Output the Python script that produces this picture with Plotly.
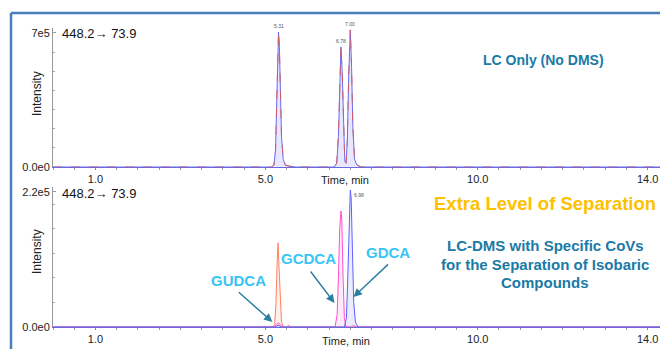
import plotly.graph_objects as go

# ---------------- data ----------------
# Top panel: LC only (two overlapping traces, blue solid + red dashed)
t_lc = [0.0, 5.15, 5.20, 5.24, 5.27, 5.29, 5.31, 5.33, 5.35, 5.38, 5.42, 5.47, 5.55, 5.70,
        6.62, 6.68, 6.72, 6.75, 6.78, 6.81, 6.84, 6.87, 6.90, 6.93, 6.96, 6.98, 7.00,
        7.03, 7.06, 7.10, 7.15, 7.25, 14.5]
i_lc = [0.0, 0.0, 0.1e5, 0.9e5, 3.6e5, 6.0e5, 7.05e5, 6.3e5, 4.2e5, 1.6e5, 0.4e5, 0.1e5, 0.05e5, 0.0,
        0.0, 0.2e5, 1.6e5, 4.5e5, 6.27e5, 4.9e5, 1.9e5, 0.3e5, 0.2e5, 1.4e5, 4.6e5, 6.6e5, 7.16e5,
        5.2e5, 2.1e5, 0.4e5, 0.12e5, 0.0, 0.0]
lc_peak_labels = ["5.31", "6.78", "7.00"]
lc_peak_times = [5.31, 6.78, 7.00]
lc_peak_heights = [7.05e5, 6.27e5, 7.16e5]

# Bottom panel: LC-DMS with specific CoVs
t_gudca = [0.0, 5.18, 5.22, 5.25, 5.28, 5.30, 5.32, 5.35, 5.38, 5.42, 5.50, 5.55, 5.60, 5.70,
           7.02, 7.08, 7.14, 14.5]
i_gudca = [0.0, 0.0, 0.05e5, 0.4e5, 1.1e5, 1.37e5, 1.0e5, 0.35e5, 0.08e5, 0.01e5, 0.0, 0.03e5, 0.0, 0.0,
           0.0, 0.025e5, 0.0, 0.0]
t_gcdca = [0.0, 5.20, 5.26, 5.31, 5.36, 5.42, 6.64, 6.69, 6.72, 6.75, 6.78, 6.80, 6.83, 6.86, 6.90, 14.5]
i_gcdca = [0.0, 0.0, 0.04e5, 0.07e5, 0.03e5, 0.0, 0.0, 0.2e5, 0.8e5, 1.6e5, 1.89e5, 1.75e5, 0.8e5, 0.15e5, 0.0, 0.0]
t_gdca = [0.0, 5.22, 5.30, 5.38, 6.86, 6.91, 6.94, 6.97, 7.00, 7.02, 7.05, 7.08, 7.12, 7.18, 14.5]
i_gdca = [0.0, 0.0, 0.03e5, 0.0, 0.0, 0.15e5, 0.8e5, 1.8e5, 2.23e5, 2.1e5, 1.2e5, 0.4e5, 0.08e5, 0.0, 0.0]
dms_peak_label = "6.98"

x_tickvals = [1.0, 5.0, 10.0, 14.0]
x_ticktext = ["1.0", "5.0", "10.0", "14.0"]
top_ytickvals = [0, 7e5]
top_yticktext = ["0.0e0", "7e5"]
bot_ytickvals = [0, 2.2e5]
bot_yticktext = ["0.0e0", "2.2e5"]

# ---------------- figure ----------------
OFF = 8  # default page body margin
W, H = 668 - OFF, 349 - OFF
def px(x):
    return (x - OFF) / W
def py(y):
    return 1 - (y - OFF) / H

FONT = "Liberation Sans, Arial, sans-serif"
fig = go.Figure()

# top panel traces
fig.add_trace(go.Scatter(x=t_lc, y=i_lc, mode="lines", line=dict(color="#6b6bf0", width=1.0),
                         fill="tozeroy", fillcolor="rgba(120,120,255,0.18)", xaxis="x", yaxis="y",
                         showlegend=False, hoverinfo="skip"))
fig.add_trace(go.Scatter(x=t_lc, y=i_lc, mode="lines", line=dict(color="#d85a5a", width=0.9, dash="dash"),
                         xaxis="x", yaxis="y", showlegend=False, hoverinfo="skip"))

# bottom panel traces
fig.add_trace(go.Scatter(x=t_gudca, y=i_gudca, mode="lines", line=dict(color="#ff8060", width=1.0),
                         fill="tozeroy", fillcolor="rgba(255,128,96,0.12)", xaxis="x2", yaxis="y2",
                         showlegend=False, hoverinfo="skip"))
fig.add_trace(go.Scatter(x=t_gcdca, y=i_gcdca, mode="lines", line=dict(color="#ff50d0", width=1.0),
                         fill="tozeroy", fillcolor="rgba(255,80,208,0.12)", xaxis="x2", yaxis="y2",
                         showlegend=False, hoverinfo="skip"))
fig.add_trace(go.Scatter(x=t_gdca, y=i_gdca, mode="lines", line=dict(color="#6060ff", width=1.0),
                         fill="tozeroy", fillcolor="rgba(96,96,255,0.12)", xaxis="x2", yaxis="y2",
                         showlegend=False, hoverinfo="skip"))

xaxis_common = dict(range=[0.0, 14.48], tickvals=x_tickvals, ticktext=x_ticktext, automargin=False,
                    showline=True, linecolor="#6a6ad8", linewidth=1.2, ticks="outside", ticklen=2,
                    tickcolor="#888", showgrid=False, zeroline=False,
                    minor=dict(dtick=0.5, ticks="outside", ticklen=2, tickcolor="#999"),
                    tickfont=dict(family=FONT, size=11, color="#222"), fixedrange=True)
yaxis_common = dict(showline=True, linecolor="#999", linewidth=1, ticks="inside", ticklen=3,
                    tickcolor="#999", showgrid=False, zeroline=False, automargin=False,
                    tickfont=dict(family=FONT, size=11, color="#222"), fixedrange=True)

fig.update_layout(
    width=W, height=H, margin=dict(l=0, r=0, t=0, b=0),
    paper_bgcolor="white", plot_bgcolor="white",
    xaxis=dict(domain=[px(53), 1], anchor="y", **xaxis_common),
    yaxis=dict(domain=[py(167), py(28)], anchor="x", range=[0, 7.26e5],
               tickvals=top_ytickvals, ticktext=top_yticktext,
               minor=dict(dtick=1e5, ticks="inside", ticklen=2, tickcolor="#aaa"), **yaxis_common),
    xaxis2=dict(domain=[px(53), 1], anchor="y2", **xaxis_common),
    yaxis2=dict(domain=[py(327), py(187)], anchor="x2", range=[0, 2.28e5],
                tickvals=bot_ytickvals, ticktext=bot_yticktext,
                minor=dict(dtick=0.4e5, ticks="inside", ticklen=2, tickcolor="#aaa"), **yaxis_common),
)

ann = []
def text(x, y, s, size, color, bold=False, xanchor="center", textangle=0):
    ann.append(dict(x=px(x), y=py(y), xref="paper", yref="paper", text=f"<b>{s}</b>" if bold else s,
                    showarrow=False, xanchor=xanchor, yanchor="middle", textangle=textangle,
                    font=dict(family=FONT, size=size, color=color)))

# transition labels
text(60, 33, "448.2\u2192 73.9", 13, "#111", xanchor="left")
text(60, 193, "448.2\u2192 73.9", 13, "#111", xanchor="left")
# intensity titles
text(37, 94, "Intensity", 12, "#222", textangle=-90)
text(37, 252, "Intensity", 12, "#222", textangle=-90)
# time titles
text(345, 180, "Time, min", 11, "#222")
text(346, 341, "Time, min", 11, "#222")
# explanatory texts
text(543, 60, "LC Only (No DMS)", 14, "#1a7aa6", bold=True)
text(545, 203, "Extra Level of Separation", 18.5, "#ffc000", bold=True)
text(545, 245, "LC-DMS with Specific CoVs", 15, "#1a7aa6", bold=True)
text(545, 264, "for the Separation of Isobaric", 15, "#1a7aa6", bold=True)
text(545, 282, "Compounds", 15, "#1a7aa6", bold=True)
# compound labels
text(238, 280, "GUDCA", 15, "#38c5f5", bold=True)
text(308, 258, "GCDCA", 15, "#38c5f5", bold=True)
text(388, 252, "GDCA", 15, "#38c5f5", bold=True)

# peak apex labels (top)
for lab, t, h in zip(lc_peak_labels, lc_peak_times, lc_peak_heights):
    ann.append(dict(x=t, y=h, xref="x", yref="y", text=lab, showarrow=False, yanchor="bottom",
                    yshift=1, font=dict(family=FONT, size=5, color="#555")))
ann.append(dict(x=7.0, y=2.23e5, xref="x2", yref="y2", text=dms_peak_label, showarrow=False,
                xanchor="left", yanchor="top", xshift=2, font=dict(family=FONT, size=5, color="#555")))

# arrows (bottom panel)
def t_of(pxx):
    return 5 + (pxx - 266) / 42.4
def i_of(pyy):
    return (327 - pyy) / 135 * 2.2e5
for (hx, hy, tx, ty) in [(273, 322, 238, 291), (335, 303, 310, 270), (354, 297, 390, 263)]:
    ann.append(dict(x=t_of(hx), y=i_of(hy), xref="x2", yref="y2",
                    ax=t_of(tx), ay=i_of(ty), axref="x2", ayref="y2",
                    text="", showarrow=True, arrowhead=2, arrowsize=1.2, arrowwidth=1.4,
                    arrowcolor="#2a7ea0"))

fig.update_layout(annotations=ann)

# blue frame (left and top)
fig.add_shape(type="line", xref="paper", yref="paper", x0=px(11), x1=px(11), y0=0, y1=py(13),
              line=dict(color="#4a7ebb", width=2.5))
fig.add_shape(type="line", xref="paper", yref="paper", x0=px(11), x1=1, y0=py(13), y1=py(13),
              line=dict(color="#4a7ebb", width=2.5))

fig.write_html("out.html")
